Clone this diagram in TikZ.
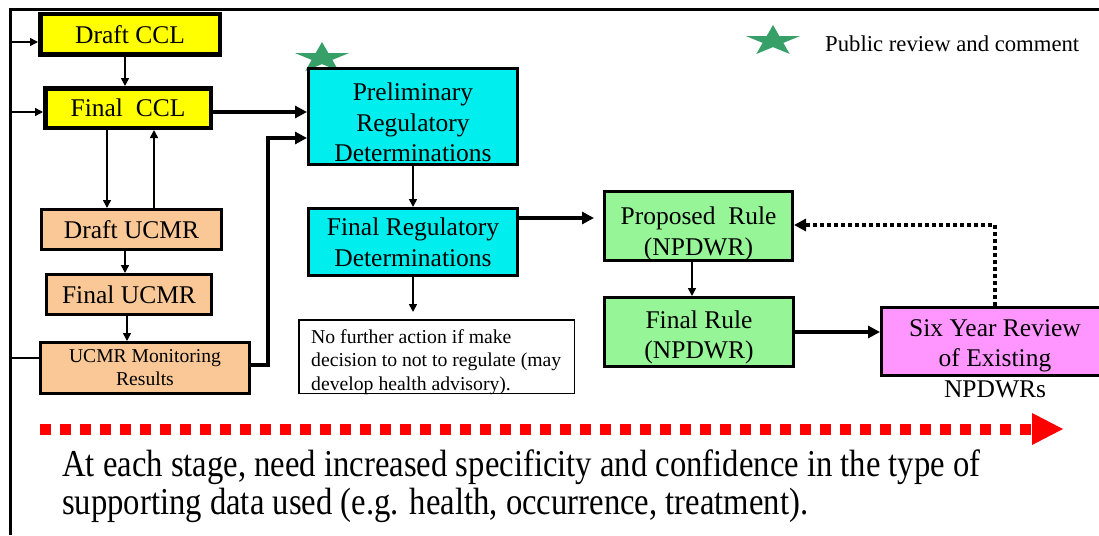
\documentclass[tikz,border=0pt]{standalone}
\usepackage{fontspec}
\setmainfont{Liberation Serif}
\newfontfamily\narrowserif[FakeStretch=0.86]{Liberation Serif}
\usetikzlibrary{arrows.meta}

\definecolor{cclyellow}{RGB}{255,255,0}
\definecolor{ucmrpeach}{RGB}{250,200,150}
\definecolor{detcyan}{RGB}{0,238,238}
\definecolor{rulegreen}{RGB}{150,245,150}
\definecolor{reviewpink}{RGB}{255,150,255}
\definecolor{stargreen}{RGB}{55,160,105}
\definecolor{progressred}{RGB}{255,0,0}

% invisible strut that lowers a multi-line label inside its box
\newcommand{\textdrop}[1]{\rule{0pt}{#1}}

\tikzset{
  pics/reviewstar/.style={code={
    \fill[stargreen, x=28.4pt, y=16pt]
      (90:1) -- (126:0.382) -- (162:1) -- (198:0.382) -- (234:1)
      -- (270:0.382) -- (306:1) -- (342:0.382) -- (18:1) -- (54:0.382) -- cycle;
  }}
}

\begin{document}
\begin{tikzpicture}[x=1pt,y=-1pt,
  box/.style={draw=black, line width=3pt, inner sep=0pt, align=center,
              font=\fontsize{25.5}{30.6}\selectfont},
  cclbox/.style={box, fill=cclyellow, line width=4.5pt},
  ucmrbox/.style={box, fill=ucmrpeach},
  detbox/.style={box, fill=detcyan},
  rulebox/.style={box, fill=rulegreen},
  reviewbox/.style={box, fill=reviewpink},
  notebox/.style={draw=black, line width=1.5pt, fill=white, inner sep=0pt},
  plain/.style={inner sep=0pt},
  rail/.style={line width=1.5pt},
  thinarrow/.style={line width=1.6pt, -{Triangle[length=8pt,width=8pt]}},
  thickarrow/.style={line width=4pt, -{Triangle[length=12pt,width=12pt]}},
  dotarrow/.style={line width=4pt, dash pattern=on 4pt off 3pt,
                   -{Triangle[length=12pt,width=12pt]}},
  progressline/.style={progressred, line width=11pt, dash pattern=on 11pt off 9pt},
]
\useasboundingbox (0,0) rectangle (1099,535);

% frame (top and left edges)
\draw[line width=3pt] (1099,10) -- (10,10) -- (10,535);

% legend
\pic at (773,41) {reviewstar};
\node[plain, anchor=base west, font=\fontsize{22.7}{27}\selectfont] (legend) at (825,51.7)
  {Public review and comment};

% CCL and UCMR column
\node[cclbox, minimum width=179.5pt, minimum height=40.5pt] (draftccl) at (130,34.5) {Draft CCL};
\node[cclbox, minimum width=165.5pt, minimum height=39.5pt] (finalccl) at (128,108) {Final\ \ CCL};
\node[ucmrbox, minimum width=180pt, minimum height=40pt] (draftucmr) at (131.5,229.5) {Draft UCMR};
\node[ucmrbox, minimum width=165pt, minimum height=40pt] (finalucmr) at (129,294.5) {Final UCMR};
\node[ucmrbox, minimum width=209pt, minimum height=51pt,
      font=\fontsize{19.6}{23}\selectfont] (ucmrmon) at (145,368) {UCMR Monitoring\\Results};

% determinations
\pic at (322,58) {reviewstar};
\node[detbox, minimum width=209pt, minimum height=96pt] (prelim) at (413,116.5)
  {\textdrop{29.4pt}Preliminary\\Regulatory\\Determinations};
\node[detbox, minimum width=209pt, minimum height=67pt] (finalreg) at (413,242)
  {Final Regulatory\\Determinations};
\node[notebox, minimum width=275.5pt, minimum height=73.5pt] (note) at (436.5,356.5) {};
\node[plain, anchor=west, align=left, font=\fontsize{19.7}{23.35}\selectfont] (notetext) at (311,362)
  {No further action if make\\decision to not to regulate (may\\develop health advisory).};

% rules
\node[rulebox, minimum width=188pt, minimum height=69pt] (proposed) at (698.5,226)
  {\textdrop{33pt}Proposed\ \ Rule\\(NPDWR)};
\node[rulebox, minimum width=189pt, minimum height=69pt] (finalrule) at (699,332)
  {\textdrop{28.4pt}Final Rule\\(NPDWR)};
\node[reviewbox, minimum width=227pt, minimum height=68pt] (six) at (995,341.5) {};
\node[plain, align=center, font=\fontsize{25.5}{30.6}\selectfont] (sixtext) at (995,358.6)
  {Six Year Review\\of Existing\\NPDWRs};

% feedback rail on the left
\coordinate (railtop) at (11,42);
\coordinate (railmid) at (11,112);
\coordinate (raillow) at (11,358);
\draw[rail] ([yshift=10pt]ucmrmon.west) -- (raillow) -- (railtop);
\draw[thinarrow] (railtop) -- (draftccl.west |- railtop);
\draw[thinarrow] (railmid) -- (finalccl.west |- railmid);

% thin flow arrows
\draw[thinarrow] (draftccl.south -| 125,0) -- (finalccl.north -| 125,0);
\draw[thinarrow] (finalccl.south -| 107,0) -- (draftucmr.north -| 107,0);
\draw[thinarrow] (draftucmr.north -| 154,0) -- (finalccl.south -| 154,0);
\draw[thinarrow] (draftucmr.south -| 125,0) -- (finalucmr.north -| 125,0);
\draw[thinarrow] (finalucmr.south -| 127,0) -- (ucmrmon.north -| 127,0);
\draw[thinarrow] (prelim) -- (finalreg);
\draw[thinarrow, shorten >=7pt] (finalreg.south) -- (finalreg.south |- note.north);
\draw[thinarrow] (proposed.south -| 692,0) -- (finalrule.north -| 692,0);

% thick flow arrows
\coordinate (cclout) at ([yshift=-4pt]finalccl.east);
\draw[thickarrow] (cclout) -- (prelim.west |- cclout);
\coordinate (monbend) at (268,138);
\draw[thickarrow] ([yshift=3pt]ucmrmon.east) -| (monbend) -- (prelim.west |- monbend);
\coordinate (regout) at ([yshift=24pt]finalreg.east);
\draw[thickarrow, shorten >=9pt] (regout) -- (proposed.west |- regout);
\draw[thickarrow] (finalrule.east) -- (six.west |- finalrule.east);
\draw[dotarrow] (six.north) |- ([yshift=1pt]proposed.east);

% progress arrow
\coordinate (progstart) at (40,429);
\coordinate (progback) at (1032,429);
\coordinate (progtip) at (1063,429);
\draw[progressline] (progstart) -- (progback);
\fill[progressred] ([yshift=16pt]progback) -- (progtip) -- ([yshift=-16pt]progback) -- cycle;

% caption
\node[plain, anchor=north west, align=left, font=\narrowserif\fontsize{38}{38}\selectfont] (caption) at (62,450)
  {At each stage, need increased specificity and confidence in the type of\\supporting data used (e.g. health, occurrence, treatment).};
\end{tikzpicture}
\end{document}
